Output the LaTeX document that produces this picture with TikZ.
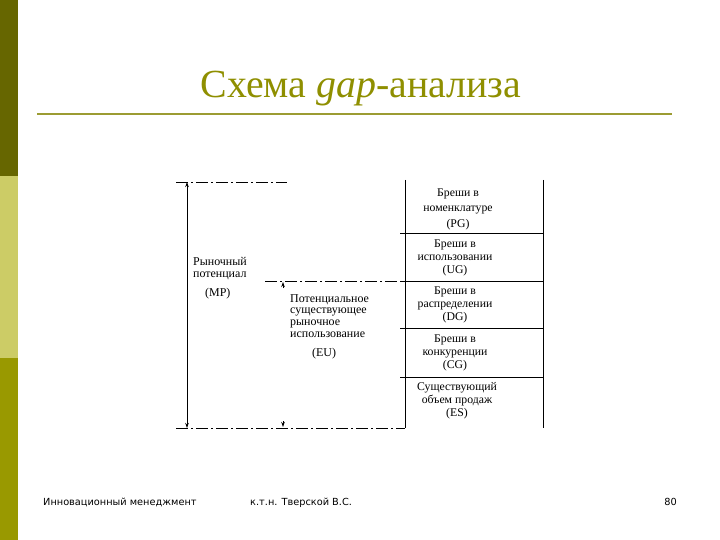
\documentclass[tikz,border=0pt]{standalone}
\usepackage{fontspec}
\setmainfont{Liberation Serif}
\newfontfamily\footfont{DejaVu Sans}
\usetikzlibrary{arrows.meta}
\definecolor{bardark}{HTML}{666600}
\definecolor{barlight}{HTML}{CCCC66}
\definecolor{barmid}{HTML}{999900}
\definecolor{titlecol}{HTML}{8F8F00}
\definecolor{rulecol}{HTML}{9C9C33}
\tikzset{
  dashdotline/.style={line width=0.9pt, dash pattern=on 12bp off 3bp on 2bp off 3bp},
  boxline/.style={line width=0.8pt},
  arr/.style={line width=0.8pt, -{Stealth[length=5bp,width=3.5bp]}},
  gaptext/.style={font=\fontsize{11.8}{13}\selectfont, align=center, inner sep=0pt},
  sidetext/.style={font=\fontsize{12}{12}\selectfont, align=left, inner sep=0pt, anchor=north west},
  foottext/.style={font=\footfont\fontsize{9.8}{11}\selectfont, inner sep=0pt, anchor=base west}
}
\begin{document}
\begin{tikzpicture}[x=1bp,y=-1bp]
\useasboundingbox (0,0) rectangle (720,540);
\fill[white] (0,0) rectangle (720,540);
% side bar
\fill[bardark] (0,0) rectangle (18,176);
\fill[barlight] (0,176) rectangle (18,358);
\fill[barmid] (0,358) rectangle (18,540);
% title
\node[font=\fontsize{40}{44}\selectfont, text=titlecol, anchor=base, inner sep=0pt] (title) at (361,98) {Схема \textit{gap}-анализа};
\coordinate (ruleL) at (37,114);
\coordinate (ruleR) at (672,114);
\draw[rulecol, line width=2.2pt] (ruleL) -- (ruleR);
% column coordinates
\coordinate (cTL) at (405,180);
\coordinate (cBL) at (405,428);
\coordinate (cTR) at (543,180);
\coordinate (cBR) at (543,428);
\draw[boxline] (cTL) -- (cBL);
\draw[boxline] (cTR) -- (cBR);
\foreach \y/\n in {233/a,281/b,328/c,377/d}{
  \coordinate (s\n) at (400,\y);
  \coordinate (r\n) at (543,\y);
  \draw[boxline] (s\n) -- (r\n);
}
% dash-dot reference lines
\coordinate (topL) at (176,182);
\coordinate (topR) at (287,182);
\coordinate (midL) at (265,281);
\coordinate (midR) at (405,281);
\coordinate (botL) at (176,428);
\coordinate (botR) at (405,428);
\draw[dashdotline] (topL) -- (topR);
\draw[dashdotline] (midL) -- (midR);
\draw[dashdotline] (botL) -- (botR);
% arrows
\coordinate (mpT) at (187,182);
\coordinate (mpB) at (187,428);
\draw[arr, {Stealth[length=5bp,width=3.5bp]}-{Stealth[length=5bp,width=3.5bp]}] (mpT) -- (mpB);
\coordinate (euT) at (283,282);
\coordinate (euTs) at (283,288);
\coordinate (euB) at (283,427);
\coordinate (euBs) at (283,421);
\draw[arr] (euTs) -- (euT);
\draw[arr] (euBs) -- (euB);
% box texts
\node[gaptext, font=\fontsize{11.8}{15.5}\selectfont] (pg) at (458,209) {Бреши в\\номенклатуре\\(PG)};
\node[gaptext] (ug) at (455,258) {Бреши в\\использовании\\(UG)};
\node[gaptext] (dg) at (455,305) {Бреши в\\распределении\\(DG)};
\node[gaptext] (cg) at (455,353) {Бреши в\\конкуренции\\(CG)};
\node[gaptext] (es) at (457,401) {Существующий\\объем продаж\\(ES)};
% side texts
\node[sidetext] (mp) at (193,257) {Рыночный\\потенциал\\[7bp]\hspace{12bp}(MP)};
\node[sidetext] (eu) at (290,294) {Потенциальное\\существующее\\рыночное\\использование\\[7bp]\hspace{22bp}(EU)};
% footer
\node[foottext] (f1) at (43,505) {Инновационный менеджмент};
\node[foottext] (f2) at (250,505) {к.т.н. Тверской В.С.};
\node[foottext, anchor=base east] (f3) at (677,505) {80};
\end{tikzpicture}
\end{document}
